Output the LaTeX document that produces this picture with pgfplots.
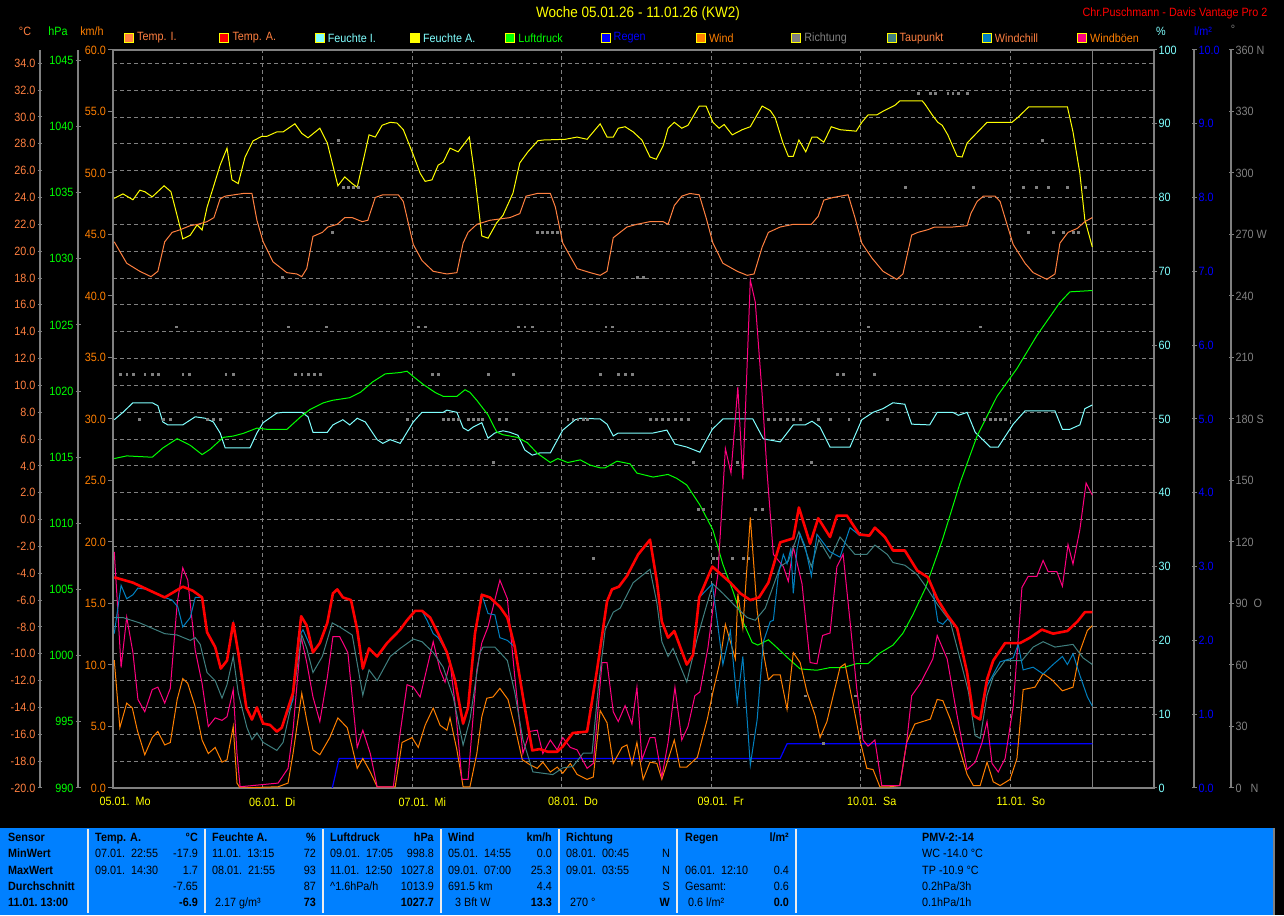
\documentclass[border=0pt]{standalone}
\usepackage{pgfplots}
\pgfplotsset{compat=1.18}
\usepackage{fontspec}
\setmainfont{Liberation Sans}[FakeStretch=0.9]

\definecolor{cTI}{HTML}{FF8040}
\definecolor{cTA}{HTML}{FF0000}
\definecolor{cFI}{HTML}{80FFFF}
\definecolor{cFA}{HTML}{FFFF00}
\definecolor{cLD}{HTML}{00FF00}
\definecolor{cRG}{HTML}{0000FF}
\definecolor{cWI}{HTML}{FF8000}
\definecolor{cRI}{HTML}{808080}
\definecolor{cTP}{HTML}{408080}
\definecolor{cWC}{HTML}{0080C0}
\definecolor{cWB}{HTML}{FF0080}
\definecolor{cpanel}{HTML}{0080FF}
\definecolor{cgrid}{HTML}{808080}

\newcommand{\tf}{\fontsize{12}{14}\selectfont}
\newcommand{\cellL}[3]{\node[anchor=base west,inner sep=0pt,font=\tf] at (#1pt,#2pt) {#3};}
\newcommand{\cellR}[3]{\node[anchor=base east,inner sep=0pt,font=\tf] at (#1pt,#2pt) {#3};}

\pgfplotsset{
  plotbox/.style={scale only axis, width=1041pt, height=738pt, at={(113pt,127pt)},
    anchor=south west, xmin=0, xmax=167.1},
  data/.style={plotbox, hide axis, clip=true},
  scl/.style={scale only axis, width=1pt, height=738pt, xmin=0, xmax=1,
    axis x line=none, scaled y ticks=false, tick align=outside, major tick length=5pt,
    tick style={draw=cgrid, line width=1pt},
    /pgf/number format/assume math mode=true, /pgf/number format/1000 sep={},
    yticklabel style={font=\tf, inner sep=2pt}},
  noarrow/.style={axis line style={-}, y axis line style={-, draw=cgrid, line width=1.3pt}},
}

\begin{document}
\begin{tikzpicture}
\fill[black] (0pt,0pt) rectangle (1284pt,915pt);

% grid, frame, day labels
\begin{axis}[plotbox, ymin=-20, ymax=34.99,
  axis line style={draw=cgrid, line width=2.5pt},
  xtick={0,24,...,144},
  xticklabels={05.01.\ \ Mo,06.01.\ \ Di,07.01.\ \ Mi,08.01.\ \ Do,09.01.\ \ Fr,10.01.\ \ Sa,11.01.\ \ So},
  xticklabel style={anchor=north west, xshift=-17pt, yshift=-6pt, text=cFA, font=\tf},
  ytick={-20,-18,...,34}, yticklabels={},
  grid=major, major grid style={draw=cgrid, dash pattern=on 4pt off 3pt, line width=0.9pt},
  major tick length=0pt, tick style={draw=none}]
\draw[cgrid, line width=1.3pt] (axis cs:157.2,-20) -- (axis cs:157.2,34.99);
\end{axis}

% humidity (%)
\begin{axis}[data, ymin=0, ymax=100]
\addplot[cFI, line width=1pt] coordinates {(0.2,49.9)(1.6,50.9)(3.2,52.2)(6.3,52.2)(7.2,51.8)(8.0,49.6)(8.8,49.2)(11.2,49.2)(13.2,50.3)(14.8,50.1)(16.1,49.6)(17.2,48.1)(18.0,46.1)(19.1,46.1)(22.0,46.1)(23.1,48.1)(24.1,49.5)(26.3,50.8)(27.3,50.9)(30.3,50.9)(31.3,50.3)(32.1,48.2)(34.4,48.2)(35.3,49.2)(36.9,49.9)(38.0,49.2)(39.2,50.1)(40.5,49.6)(42.4,47.2)(43.3,46.7)(44.5,47.2)(46.1,46.7)(46.9,47.8)(48.2,49.6)(49.6,50.9)(53.0,50.9)(53.6,51.2)(55.2,50.9)(56.2,48.8)(57.0,48.4)(57.8,48.9)(59.2,49.5)(60.2,47.4)(61.3,48.1)(62.6,48.4)(63.7,48.2)(65.0,47.8)(66.1,45.8)(67.3,45.1)(68.5,45.4)(70.2,45.4)(72.2,48.5)(74.2,49.9)(75.0,50.1)(78.2,50.0)(79.3,49.3)(80.3,47.7)(81.1,48.1)(86.7,48.1)(88.9,48.5)(90.2,46.6)(92.1,46.2)(94.2,45.5)(96.2,48.6)(97.9,50.0)(102.7,50.0)(104.4,47.3)(107.1,46.9)(109.2,49.2)(111.1,49.2)(112.2,49.7)(113.5,48.9)(115.1,46.2)(118.3,46.2)(120.2,49.9)(122.0,50.9)(123.6,51.4)(125.2,52.2)(127.1,52.0)(128.2,49.3)(131.1,49.2)(132.3,50.9)(134.8,50.9)(135.7,50.5)(137.1,50.9)(138.4,48.2)(140.8,46.2)(142.1,46.2)(144.5,49.3)(146.4,51.1)(151.2,51.1)(152.4,48.6)(153.6,48.6)(155.2,49.2)(156.0,51.4)(157.2,51.9)};
\addplot[cFA, line width=1pt] coordinates {(0.2,79.9)(1.6,80.5)(3.2,79.7)(4.3,81.0)(5.1,80.8)(6.3,80.1)(8.2,81.6)(9.3,80.8)(10.8,75.9)(11.2,74.4)(12.4,74.9)(13.5,76.3)(14.3,75.6)(15.1,78.7)(16.1,81.4)(17.2,84.4)(18.3,86.7)(19.1,82.4)(20.1,81.9)(21.2,85.5)(22.5,87.7)(23.9,88.3)(24.7,88.3)(26.3,88.9)(27.3,88.9)(29.2,90.0)(30.3,88.7)(31.3,88.1)(33.2,89.4)(34.4,87.4)(36.1,81.6)(37.2,82.8)(38.4,81.9)(39.2,81.4)(41.1,88.5)(42.1,88.2)(43.2,89.8)(44.5,90.2)(45.6,90.1)(46.6,89.2)(48.2,85.8)(49.3,83.3)(50.1,82.2)(51.2,82.4)(52.2,84.4)(53.0,84.8)(54.1,86.7)(55.4,86.2)(57.2,88.2)(58.1,82.8)(59.2,74.8)(60.2,74.5)(61.6,76.6)(62.6,77.6)(64.2,80.6)(65.3,84.7)(66.6,86.2)(68.2,87.7)(69.0,87.8)(72.6,87.9)(74.5,88.2)(76.1,87.9)(78.2,90.0)(79.3,88.2)(80.3,88.2)(81.1,89.4)(82.2,89.6)(83.5,88.9)(84.9,87.8)(86.2,85.5)(87.2,85.2)(88.3,87.0)(89.1,89.4)(90.1,90.2)(91.3,89.4)(92.3,89.8)(94.1,92.4)(95.2,92.4)(96.3,90.2)(97.3,89.4)(98.1,89.9)(99.4,88.5)(101.0,89.2)(102.3,89.6)(104.2,92.4)(105.5,91.8)(106.3,90.8)(107.5,87.5)(108.4,85.6)(109.2,85.6)(110.1,87.8)(111.2,86.2)(112.2,88.2)(113.0,88.2)(114.1,87.5)(115.3,89.6)(116.7,89.2)(119.3,89.0)(120.2,90.2)(121.2,91.2)(122.6,91.2)(123.6,91.7)(125.5,92.5)(126.3,93.1)(129.9,93.1)(130.3,92.7)(131.5,91.2)(132.4,90.2)(133.1,89.8)(134.0,88.5)(135.5,85.6)(136.3,85.5)(137.1,87.4)(140.3,90.2)(144.3,90.2)(145.3,90.9)(147.0,92.3)(153.2,92.3)(154.1,88.9)(155.2,83.3)(156.0,77.0)(157.2,73.3)};
\end{axis}

% pressure (hPa)
\begin{axis}[data, ymin=990, ymax=1045.78]
\addplot[cLD, line width=1pt] coordinates {(0.2,1014.9)(2.2,1015.1)(6.3,1015.0)(8.0,1015.7)(10.3,1016.4)(12.4,1015.9)(14.3,1015.2)(15.6,1015.6)(17.7,1016.5)(19.3,1016.6)(20.9,1016.8)(23.1,1017.2)(24.9,1017.1)(27.9,1017.1)(30.0,1018.0)(31.6,1018.6)(33.7,1019.1)(35.2,1019.3)(38.0,1019.5)(39.7,1019.9)(41.7,1020.7)(43.7,1021.3)(46.1,1021.4)(47.2,1021.5)(48.2,1021.1)(49.8,1020.5)(51.7,1019.9)(53.0,1019.6)(55.2,1019.6)(56.5,1020.1)(57.3,1019.9)(58.4,1019.3)(60.2,1018.2)(61.6,1016.9)(62.6,1016.7)(64.9,1016.5)(66.5,1016.1)(68.1,1015.3)(70.2,1014.6)(71.4,1014.9)(73.0,1014.6)(75.0,1014.8)(76.6,1014.4)(78.2,1014.2)(79.0,1014.2)(80.9,1014.7)(83.0,1014.5)(84.1,1013.8)(86.7,1013.5)(89.1,1013.7)(90.5,1013.4)(92.1,1012.9)(94.2,1011.4)(96.3,1009.5)(97.9,1006.9)(99.5,1004.9)(101.1,1002.6)(102.6,1001.0)(103.5,1000.8)(105.2,1001.2)(106.6,1000.6)(108.4,999.8)(110.3,999.0)(113.0,998.9)(115.1,999.1)(117.2,999.1)(119.4,999.4)(121.2,999.4)(123.1,1000.2)(125.2,1000.8)(126.8,1001.7)(128.4,1003.1)(130.4,1005.1)(133.1,1008.7)(136.0,1013.1)(138.7,1016.6)(141.9,1019.6)(145.1,1021.7)(148.3,1024.2)(152.0,1026.7)(153.6,1027.5)(157.2,1027.6)};
\end{axis}

% rain (l/m2)
\begin{axis}[data, ymin=0, ymax=10]
\addplot[cRG, line width=1.2pt] coordinates {(35.2,0)(36.3,0.4)(107.1,0.4)(108.2,0.6)(157.2,0.6)};
\end{axis}

% wind direction (deg)
\begin{axis}[data, ymin=0, ymax=360]
\addplot[only marks, mark=square*, mark size=0.9pt, cRI] coordinates {
(129.2,339)(131.2,339)(132.0,339)(134.0,339)(134.8,339)(135.7,339)(137.1,339)
(36.1,316)(149.1,316)
(36.9,293)(37.7,293)(38.5,293)(39.3,293)(127.1,293)(138.1,293)(146.1,293)(148.2,293)(150.1,293)(153.2,293)(156.0,293)
(35.2,271)(68.1,271)(68.9,271)(69.7,271)(70.5,271)(71.3,271)(146.9,271)(150.9,271)(152.5,271)(154.1,271)(154.9,271)
(27.1,249)(84.1,249)(85.1,249)
(10.1,225)(28.1,225)(34.2,225)(49.0,225)(50.1,225)(65.0,225)(66.1,225)(67.3,225)(79.1,225)(80.1,225)(121.2,225)(139.2,225)
(1.1,202)(2.2,202)(3.2,202)(5.1,202)(6.3,202)(7.2,202)(11.2,202)(12.2,202)(18.1,202)(19.3,202)(29.2,202)(30.3,202)(31.3,202)(32.3,202)(33.2,202)(51.2,202)(52.2,202)(60.2,202)(64.2,202)(78.2,202)(81.1,202)(82.2,202)(83.3,202)(116.2,202)(117.2,202)(122.2,202)
(4.2,180)(8.0,180)(9.2,180)(15.1,180)(16.1,180)(17.2,180)(47.2,180)(53.0,180)(53.8,180)(54.6,180)(55.4,180)(57.0,180)(57.8,180)(58.6,180)(59.2,180)(62.0,180)(63.1,180)(73.0,180)(73.8,180)(74.6,180)(75.5,180)(76.1,180)(86.2,180)(87.2,180)(88.1,180)(89.1,180)(90.2,180)(91.2,180)(92.3,180)(105.2,180)(106.1,180)(107.1,180)(108.2,180)(109.2,180)(110.3,180)(113.2,180)(115.1,180)(118.1,180)(124.3,180)(139.9,180)(140.8,180)(141.6,180)(142.4,180)(143.2,180)
(61.0,159)(93.1,159)(100.2,159)(112.1,159)
(93.9,136)(94.7,136)(103.1,136)(104.2,136)
(77.1,112)(96.3,112)(97.0,112)(99.4,112)(101.1,112)(101.9,112)
(111.1,45)(119.1,45)(114.0,22)};
\end{axis}

% wind and gusts (km/h)
\begin{axis}[plotbox, ymin=0, ymax=60, clip=true, axis x line=none, axis y line*=left,
  y axis line style={draw=none}, ytick={0,5,...,60},
  yticklabel={\pgfmathprintnumber[fixed,fixed zerofill,precision=1]{\tick}},
  yticklabel style={text=cWI, font=\tf, inner sep=2pt},
  /pgf/number format/assume math mode=true,
  tick align=outside, major tick length=5pt, tick style={draw=cgrid, line width=1pt}]
\addplot[cWI, line width=1pt] coordinates {(0.2,10.4)(1.1,4.9)(2.2,6.9)(3.1,6.5)(3.9,4.7)(5.1,2.7)(6.3,4.1)(7.2,4.6)(8.3,3.5)(9.2,3.7)(10.3,7.2)(11.2,8.9)(12.0,8.5)(13.2,6.6)(14.3,3.9)(15.3,2.8)(16.4,3.3)(17.5,2.1)(18.3,2.3)(19.3,5.0)(19.9,0.4)(20.4,0)(26.5,0.1)(28.1,0.4)(28.9,2.8)(30.3,7.7)(31.1,5.5)(32.1,3.1)(33.2,2.7)(34.8,4.1)(36.1,5.7)(37.6,4.9)(38.4,3.3)(39.2,1.6)(40.1,2.4)(41.3,1.3)(42.4,0.1)(45.3,0.1)(46.4,3.7)(48.0,4.1)(49.0,3.3)(50.1,5.1)(51.4,6.5)(52.5,5.1)(53.6,4.7)(54.1,5.7)(55.2,3.1)(56.2,0.1)(57.3,0.1)(58.4,2.8)(59.2,5.8)(60.0,7.3)(61.0,7.4)(62.1,8.1)(63.4,7.2)(64.5,5.0)(65.7,2.3)(66.9,1.9)(68.1,1.6)(69.0,2.1)(70.2,1.3)(71.3,1.7)(72.2,1.2)(73.4,2.0)(74.5,1.1)(76.1,0.7)(77.1,0.9)(78.2,6.3)(79.3,5.3)(80.3,2.0)(81.7,3.3)(82.5,3.5)(83.3,1.9)(84.1,3.7)(85.1,0.7)(86.2,2.1)(87.3,2.0)(88.1,0.7)(89.1,2.3)(90.1,3.9)(91.0,1.7)(92.1,1.7)(93.8,2.5)(95.4,5.6)(96.3,7.8)(97.4,10.2)(98.3,13.3)(99.1,11.9)(99.9,10.5)(100.3,15.8)(101.1,13.0)(102.3,22.0)(103.4,14.4)(104.4,11.0)(105.2,8.8)(106.0,9.2)(107.1,9.2)(108.2,6.4)(109.2,11.0)(110.3,10.2)(111.4,7.8)(112.7,5.9)(113.5,4.1)(114.6,5.4)(115.6,7.5)(116.7,9.8)(117.5,10.1)(118.8,6.8)(119.9,3.9)(121.0,1.6)(122.0,1.5)(123.1,0.1)(124.7,0.1)(126.3,0.2)(127.4,3.7)(128.7,5.2)(131.2,5.6)(132.3,7.2)(133.2,7.1)(134.4,5.6)(135.7,3.5)(137.1,1.1)(138.1,0.2)(139.2,0.2)(140.3,2.1)(141.3,0.5)(142.4,0.2)(144.0,0.7)(145.1,2.4)(146.1,8.0)(148.0,8.2)(149.3,9.3)(150.7,8.8)(152.4,7.9)(154.1,8.2)(155.2,11.1)(156.4,12.8)(157.2,13.2)};
\addplot[cWB, line width=1pt] coordinates {(0.2,19.2)(0.6,15.9)(1.3,9.8)(2.2,13.9)(3.2,11.0)(4.0,7.2)(5.1,6.2)(6.3,8.0)(7.2,8.2)(8.3,6.9)(9.2,8.1)(10.3,15.0)(11.2,17.9)(12.0,16.9)(13.2,11.2)(14.3,8.5)(15.3,5.0)(16.4,5.7)(17.5,5.5)(18.3,5.8)(19.3,8.0)(19.9,2.8)(20.4,0.1)(26.5,0.4)(28.1,1.6)(28.9,4.7)(30.2,12.3)(31.1,10.2)(32.1,7.4)(33.2,5.4)(34.4,9.0)(35.3,12.3)(36.4,12.3)(37.7,11.0)(39.2,3.3)(40.1,4.7)(41.3,2.8)(42.4,0.1)(45.0,0.1)(46.1,4.5)(47.2,8.4)(48.2,8.2)(49.3,7.4)(51.4,11.9)(52.5,9.6)(53.3,8.6)(54.1,10.2)(54.9,6.9)(56.0,0.7)(57.0,0.7)(58.4,9.6)(59.2,11.8)(60.2,13.1)(61.0,14.7)(62.1,16.9)(63.3,15.4)(64.5,9.0)(65.8,2.8)(66.9,4.6)(68.1,4.7)(69.0,2.8)(70.2,3.9)(71.3,3.1)(72.2,4.1)(73.4,3.3)(74.5,3.1)(76.1,1.6)(77.1,2.0)(78.5,10.2)(79.3,10.2)(80.3,6.2)(81.1,5.4)(82.2,6.7)(83.3,5.2)(84.1,8.2)(84.9,2.3)(86.2,4.1)(87.0,4.1)(88.1,0.9)(89.1,3.7)(90.2,8.2)(91.3,3.9)(92.3,5.0)(93.4,7.5)(94.2,7.8)(95.5,11.4)(96.3,14.6)(97.1,17.4)(98.3,27.6)(99.2,25.6)(100.3,32.6)(101.1,25.1)(102.3,41.3)(103.1,39.5)(104.2,32.0)(105.0,25.6)(106.0,19.0)(107.6,18.0)(108.4,16.8)(109.2,19.6)(110.6,16.6)(111.9,10.2)(113.0,10.1)(113.9,12.4)(115.1,12.6)(116.2,18.0)(117.2,19.0)(118.3,13.6)(119.4,8.0)(120.4,3.9)(121.2,3.4)(122.3,3.9)(123.4,0.2)(124.7,0.2)(126.3,0.2)(127.4,3.7)(128.2,7.5)(129.6,8.5)(130.7,9.6)(131.6,10.5)(132.3,12.4)(133.9,10.5)(135.2,6.7)(136.3,3.7)(137.1,1.5)(138.4,2.1)(139.5,3.7)(140.3,5.4)(141.1,2.0)(142.1,1.3)(143.2,2.4)(144.5,6.6)(145.9,16.3)(146.9,17.2)(148.3,17.2)(149.3,18.5)(150.1,17.6)(151.5,17.6)(152.4,16.4)(153.3,19.8)(154.1,18.2)(155.2,21.0)(156.2,24.8)(157.2,23.8)};
\end{axis}

% temperatures (C)
\begin{axis}[data, ymin=-20, ymax=34.99]
\addplot[cTI, line width=1pt] coordinates {(0.2,20.7)(2.2,19.1)(4.3,18.5)(6.1,18.1)(7.2,18.5)(8.3,20.7)(9.5,21.4)(10.8,21.6)(12.4,21.9)(13.6,22.0)(15.1,22.2)(16.2,22.5)(17.2,23.9)(18.0,24.1)(20.9,24.3)(22.3,24.3)(23.1,22.3)(24.1,20.7)(25.7,19.2)(27.9,18.4)(29.5,18.3)(30.3,18.1)(31.1,18.7)(32.1,21.1)(33.6,21.4)(34.5,21.8)(36.0,22.0)(37.2,22.5)(38.4,22.5)(40.0,22.2)(40.9,22.3)(42.1,24.0)(43.3,24.2)(45.8,24.2)(46.6,23.7)(48.2,20.5)(49.6,19.3)(51.4,18.5)(53.6,18.3)(55.2,18.4)(56.2,20.6)(57.0,21.4)(58.4,22.0)(60.5,22.3)(63.7,22.5)(65.3,22.8)(66.3,24.1)(68.1,24.3)(70.2,24.3)(71.0,23.3)(72.2,20.6)(74.5,18.7)(76.6,18.4)(78.2,18.2)(79.3,18.5)(80.3,21.0)(81.4,21.4)(82.5,21.8)(84.1,22.0)(86.2,22.2)(88.3,22.2)(89.1,22.0)(90.1,23.4)(91.3,24.1)(92.6,24.3)(94.1,24.2)(95.2,22.5)(96.3,20.6)(97.9,19.1)(100.2,18.5)(101.8,18.2)(102.9,18.3)(104.2,20.3)(105.2,21.4)(107.1,21.8)(109.2,22.0)(112.1,22.0)(113.2,22.6)(114.1,23.8)(115.6,24.0)(118.0,24.2)(119.1,22.5)(120.2,20.6)(121.8,19.5)(123.6,18.5)(125.8,17.9)(126.8,18.3)(128.2,21.2)(129.2,21.4)(130.8,21.6)(131.9,21.8)(134.8,21.8)(137.1,21.9)(137.7,22.8)(138.7,23.7)(139.7,24.1)(141.6,24.1)(142.4,23.7)(143.5,22.0)(144.5,20.5)(146.4,19.1)(147.7,18.4)(149.9,17.9)(151.2,18.3)(152.0,20.6)(153.3,21.4)(154.8,21.7)(156.0,22.2)(157.2,22.5)};
\addplot[cTP, line width=1pt] coordinates {(0.2,-7.3)(1.6,-7.3)(4.3,-7.7)(6.3,-8.1)(8.3,-8.5)(10.3,-8.6)(12.4,-9.0)(13.2,-8.8)(14.0,-9.3)(15.1,-11.4)(16.4,-12.0)(17.5,-13.3)(18.3,-12.3)(19.3,-10.2)(20.1,-12.9)(21.5,-15.5)(22.3,-16.4)(23.1,-15.9)(24.1,-16.6)(26.3,-17.2)(27.3,-16.6)(28.9,-13.2)(30.3,-8.6)(31.1,-9.6)(32.1,-11.4)(33.6,-10.2)(35.2,-7.7)(36.4,-8.0)(38.4,-8.6)(40.1,-13.1)(41.1,-11.2)(42.4,-12.0)(44.5,-10.2)(46.1,-9.6)(48.2,-8.9)(49.6,-9.1)(51.4,-9.9)(53.0,-11.0)(54.6,-13.2)(56.2,-16.8)(57.3,-14.9)(58.9,-9.9)(59.4,-9.5)(61.3,-9.5)(63.3,-10.5)(64.5,-12.9)(65.8,-16.4)(67.4,-18.8)(69.0,-18.9)(70.6,-19.0)(72.2,-18.5)(73.8,-18.4)(75.5,-17.4)(76.9,-17.4)(77.9,-12.5)(79.0,-8.2)(80.3,-6.9)(81.4,-6.6)(83.5,-4.7)(86.2,-3.7)(87.3,-6.2)(88.1,-9.1)(89.1,-10.2)(89.9,-9.6)(92.1,-12.1)(93.8,-8.8)(95.4,-6.2)(96.3,-4.8)(97.9,-5.5)(100.2,-6.6)(101.8,-7.3)(103.1,-7.5)(104.7,-6.6)(107.1,-3.5)(108.4,-3.1)(110.1,-0.9)(112.1,-3.5)(113.3,-1.5)(115.1,-2.9)(116.7,-1.3)(119.1,-2.6)(121.0,-2.6)(122.3,-1.9)(124.3,-2.6)(125.2,-3.2)(127.1,-3.4)(129.1,-4.1)(130.8,-5.2)(132.3,-6.3)(134.4,-7.6)(135.7,-9.9)(137.3,-12.8)(138.4,-16.1)(139.2,-16.3)(140.3,-13.1)(141.3,-11.7)(143.2,-10.5)(145.9,-10.5)(147.7,-9.5)(149.3,-9.1)(151.2,-9.5)(154.1,-9.3)(155.7,-10.3)(157.2,-10.8)};
\addplot[cWC, line width=1pt] coordinates {(0.2,-8.5)(1.3,-4.9)(2.2,-5.9)(3.2,-5.6)(4.0,-5.1)(5.5,-5.2)(8.3,-5.8)(9.5,-6.0)(10.4,-6.5)(11.2,-8.0)(12.4,-7.3)(13.2,-5.8)(14.3,-5.8)(15.1,-8.4)(16.4,-9.5)(17.3,-11.1)(18.3,-10.5)(19.3,-7.7)(20.1,-9.9)(21.4,-14.0)(22.3,-14.9)(23.1,-14.0)(24.1,-15.2)(25.2,-15.3)(26.3,-15.8)(27.1,-15.5)(28.9,-13.4)(29.7,-8.8)(30.5,-8.2)(32.1,-9.9)(33.2,-9.2)(34.4,-7.7)(35.3,-5.5)(36.0,-5.2)(36.9,-5.8)(38.2,-6.0)(39.2,-8.2)(40.1,-11.1)(41.1,-9.6)(42.4,-10.2)(44.0,-9.2)(46.1,-8.2)(47.2,-7.5)(48.5,-6.8)(49.6,-6.8)(50.4,-7.5)(51.4,-8.5)(52.2,-8.8)(53.6,-9.9)(54.9,-12.0)(56.2,-15.2)(57.0,-14.0)(58.1,-8.5)(59.2,-5.6)(60.2,-7.0)(61.3,-7.1)(62.1,-8.8)(63.3,-9.0)(64.5,-9.5)(65.8,-13.2)(67.3,-17.2)(68.5,-17.1)(69.8,-17.3)(71.3,-17.3)(72.2,-16.9)(73.8,-15.9)(76.1,-15.8)(77.7,-11.2)(79.3,-6.1)(80.1,-5.2)(81.2,-5.0)(82.5,-4.2)(84.3,-2.6)(86.2,-1.5)(87.3,-4.6)(88.1,-7.6)(89.1,-8.8)(90.1,-8.3)(92.1,-10.8)(93.1,-10.1)(94.1,-5.8)(96.2,-4.8)(97.0,-7.6)(97.9,-10.8)(99.1,-8.3)(99.5,-10.3)(100.2,-13.7)(101.1,-10.2)(102.3,-18.3)(103.4,-14.9)(104.4,-9.1)(105.5,-7.6)(106.0,-7.5)(106.8,-4.1)(107.6,-2.6)(108.2,-3.3)(108.8,-2.2)(109.2,-5.5)(109.8,-2.2)(110.3,-1.1)(111.1,-2.0)(112.1,-4.2)(113.0,-1.1)(115.1,-2.4)(116.7,-2.8)(118.3,-0.6)(119.9,-1.2)(121.4,-1.2)(122.3,-0.6)(123.9,-1.3)(125.2,-2.3)(127.1,-2.3)(129.1,-3.8)(130.8,-4.3)(131.6,-5.2)(132.4,-7.6)(133.2,-7.8)(134.0,-7.4)(135.5,-8.1)(137.1,-11.4)(138.1,-14.6)(139.2,-14.9)(140.3,-12.4)(142.4,-10.6)(144.5,-10.3)(145.3,-9.3)(146.1,-11.2)(147.7,-11.0)(149.3,-11.5)(150.9,-10.8)(152.4,-10.2)(153.2,-10.8)(154.1,-10.0)(155.2,-11.6)(156.4,-13.2)(157.2,-13.9)};
\addplot[cTA, line width=2.6pt, line join=round] coordinates {(0.2,-4.3)(3.2,-4.7)(5.5,-5.2)(8.3,-5.8)(11.2,-5.0)(12.8,-5.3)(14.3,-5.8)(15.1,-8.4)(16.4,-9.5)(17.3,-11.1)(18.3,-10.5)(19.3,-7.7)(20.1,-9.9)(21.4,-14.0)(22.3,-14.9)(23.1,-14.0)(24.1,-15.2)(25.2,-15.3)(26.3,-15.8)(27.1,-15.5)(28.9,-12.9)(30.2,-7.2)(31.1,-7.9)(32.1,-9.9)(33.2,-9.2)(34.4,-7.7)(35.3,-5.5)(36.0,-5.2)(36.9,-5.8)(38.2,-6.0)(39.2,-8.2)(40.1,-11.1)(41.1,-9.6)(42.4,-10.2)(44.0,-9.2)(46.1,-8.2)(47.2,-7.5)(48.5,-6.8)(49.6,-6.8)(50.9,-7.3)(52.2,-8.5)(53.6,-9.9)(54.9,-12.0)(56.2,-15.2)(57.0,-14.0)(58.1,-8.5)(59.2,-5.6)(60.5,-5.8)(62.1,-6.5)(63.3,-7.3)(64.5,-9.5)(65.8,-13.2)(67.3,-17.2)(68.5,-17.1)(69.8,-17.3)(71.3,-17.3)(72.2,-16.9)(73.8,-15.9)(76.1,-15.8)(77.7,-11.2)(79.3,-6.1)(80.1,-5.2)(81.2,-5.0)(82.5,-4.2)(84.3,-2.6)(86.2,-1.5)(87.3,-4.6)(88.1,-7.6)(89.1,-8.8)(90.1,-8.3)(92.1,-10.8)(93.1,-10.1)(94.1,-5.8)(96.2,-3.5)(99.1,-4.7)(100.7,-5.5)(102.3,-6.0)(103.7,-5.8)(105.2,-4.7)(107.1,-1.7)(109.2,-1.4)(110.1,0.9)(111.9,-1.8)(113.2,0.1)(115.1,-1.3)(116.2,0.3)(117.8,0.3)(119.8,-1.1)(121.4,-1.2)(122.3,-0.6)(123.9,-1.3)(125.2,-2.3)(127.1,-2.3)(129.1,-3.8)(130.8,-4.3)(132.3,-5.9)(133.9,-7.1)(135.5,-8.1)(137.1,-11.4)(138.1,-14.6)(139.2,-14.9)(140.3,-11.9)(141.3,-10.5)(143.2,-9.2)(145.6,-9.2)(147.2,-8.8)(149.1,-8.2)(150.9,-8.5)(153.2,-8.3)(154.8,-7.6)(156.0,-6.9)(157.2,-6.9)};
\end{axis}

% scale axes
\begin{axis}[scl, at={(40pt,127pt)}, anchor=south west, axis y line=left, noarrow,
  ymin=-20, ymax=34.99, ytick={-20,-18,...,34},
  yticklabel={\pgfmathprintnumber[fixed,fixed zerofill,precision=1]{\tick}},
  yticklabel style={text=cTI}]
\end{axis}
\begin{axis}[scl, at={(78pt,127pt)}, anchor=south west, axis y line=left, noarrow,
  ymin=990, ymax=1045.78, ytick={990,995,...,1045},
  yticklabel style={text=cLD}]
\end{axis}
\begin{axis}[scl, at={(1154pt,127pt)}, anchor=south east, axis y line=right, noarrow,
  y axis line style={draw=none}, ymin=0, ymax=100, ytick={0,10,...,100},
  yticklabel style={text=cFI}]
\end{axis}
\begin{axis}[scl, at={(1194pt,127pt)}, anchor=south east, axis y line=right, noarrow,
  ymin=0, ymax=10, ytick={0,1,...,10},
  yticklabel={\pgfmathprintnumber[fixed,fixed zerofill,precision=1]{\tick}},
  yticklabel style={text=cRG}]
\end{axis}
\begin{axis}[scl, at={(1231pt,127pt)}, anchor=south east, axis y line=right, noarrow,
  ymin=0, ymax=360, ytick={0,30,...,360},
  yticklabels={0\ \ \ N,30,60,90\ \ O,120,150,180 S,210,240,270 W,300,330,360 N},
  yticklabel style={text=cgrid}]
\end{axis}

% titles and axis headers
\node[text=cFA, font=\fontsize{15}{17}\selectfont] at (638pt,901pt) {Woche 05.01.26 - 11.01.26 (KW2)};
\node[text=red, font=\tf] at (1175pt,902pt) {Chr.Puschmann - Davis Vantage Pro 2};
\node[text=cTI, font=\tf] at (25pt,884pt) {°C};
\node[text=cLD, font=\tf] at (58pt,884pt) {hPa};
\node[text=cWI, font=\tf] at (92pt,884pt) {km/h};
\node[text=cFI, font=\tf] at (1161pt,884pt) {\%};
\node[text=cRG, font=\tf] at (1203pt,884pt) {l/m²};
\node[text=cgrid, font=\tf] at (1233pt,886pt) {°};

% legend
\foreach \i/\c/\t/\lc in {0/cTI/Temp. I./cTI, 1/cTA/Temp. A./cTI, 2/cFI/Feuchte I./cFI,
  3/cFA/Feuchte A./cFI, 4/cLD/Luftdruck/cLD, 5/cRG/Regen/cRG, 6/cWI/Wind/cWI,
  7/cRI/Richtung/cgrid, 8/cTP/Taupunkt/cTI, 9/cWC/Windchill/cTI, 10/cWB/Windböen/cWI} {
  \pgfmathsetmacro{\xx}{129+95.3*\i}
  \filldraw[fill=\c, draw=cFA, line width=0.8pt] (\xx pt-4.5pt,872.5pt) rectangle (\xx pt+4.5pt,881.5pt);
  \node[anchor=west, inner sep=0pt, text=\lc, font=\tf] at (\xx pt+8pt,877pt) {\t};
}

% bottom panel
\fill[cpanel] (0pt,0pt) rectangle (1274pt,87pt);
\draw[cgrid, line width=1.5pt] (1274pt,0pt) -- (1274pt,87pt);
\foreach \xs in {88,205,323,441,559,677,796}
  \draw[white!85!gray, line width=1.5pt] (\xs pt,2pt) -- (\xs pt,86pt);

\cellL{8}{73}{\textbf{Sensor}}
\cellL{8}{57}{\textbf{MinWert}}
\cellL{8}{41}{\textbf{MaxWert}}
\cellL{8}{25}{\textbf{Durchschnitt}}
\cellL{8}{9}{\textbf{11.01.\ 13:00}}

\cellL{95}{73}{\textbf{Temp. A.}} \cellR{198}{73}{\textbf{°C}}
\cellL{95}{57}{07.01.\ \ 22:55} \cellR{198}{57}{-17.9}
\cellL{95}{41}{09.01.\ \ 14:30} \cellR{198}{41}{1.7}
\cellR{198}{25}{-7.65}
\cellR{198}{9}{\textbf{-6.9}}

\cellL{212}{73}{\textbf{Feuchte A.}} \cellR{316}{73}{\textbf{\%}}
\cellL{212}{57}{11.01.\ \ 13:15} \cellR{316}{57}{72}
\cellL{212}{41}{08.01.\ \ 21:55} \cellR{316}{41}{93}
\cellR{316}{25}{87}
\cellL{215}{9}{2.17 g/m³} \cellR{316}{9}{\textbf{73}}

\cellL{330}{73}{\textbf{Luftdruck}} \cellR{434}{73}{\textbf{hPa}}
\cellL{330}{57}{09.01.\ \ 17:05} \cellR{434}{57}{998.8}
\cellL{330}{41}{11.01.\ \ 12:50} \cellR{434}{41}{1027.8}
\cellL{330}{25}{\textasciicircum 1.6hPa/h} \cellR{434}{25}{1013.9}
\cellR{434}{9}{\textbf{1027.7}}

\cellL{448}{73}{\textbf{Wind}} \cellR{552}{73}{\textbf{km/h}}
\cellL{448}{57}{05.01.\ \ 14:55} \cellR{552}{57}{0.0}
\cellL{448}{41}{09.01.\ \ 07:00} \cellR{552}{41}{25.3}
\cellL{448}{25}{691.5 km} \cellR{552}{25}{4.4}
\cellL{455}{9}{3 Bft W} \cellR{552}{9}{\textbf{13.3}}

\cellL{566}{73}{\textbf{Richtung}}
\cellL{566}{57}{08.01.\ \ 00:45} \cellR{670}{57}{N}
\cellL{566}{41}{09.01.\ \ 03:55} \cellR{670}{41}{N}
\cellR{670}{25}{S}
\cellL{570}{9}{270 °} \cellR{670}{9}{\textbf{W}}

\cellL{685}{73}{\textbf{Regen}} \cellR{789}{73}{\textbf{l/m²}}
\cellL{685}{41}{06.01.\ \ 12:10} \cellR{789}{41}{0.4}
\cellL{685}{25}{Gesamt:} \cellR{789}{25}{0.6}
\cellL{688}{9}{0.6 l/m²} \cellR{789}{9}{\textbf{0.0}}

\cellL{922}{73}{\textbf{PMV-2:-14}}
\cellL{922}{57}{WC -14.0 °C}
\cellL{922}{41}{TP -10.9 °C}
\cellL{922}{25}{0.2hPa/3h}
\cellL{922}{9}{0.1hPa/1h}

\pgfresetboundingbox
\path[use as bounding box] (0pt,0pt) rectangle (1284pt,915pt);
\end{tikzpicture}
\end{document}
